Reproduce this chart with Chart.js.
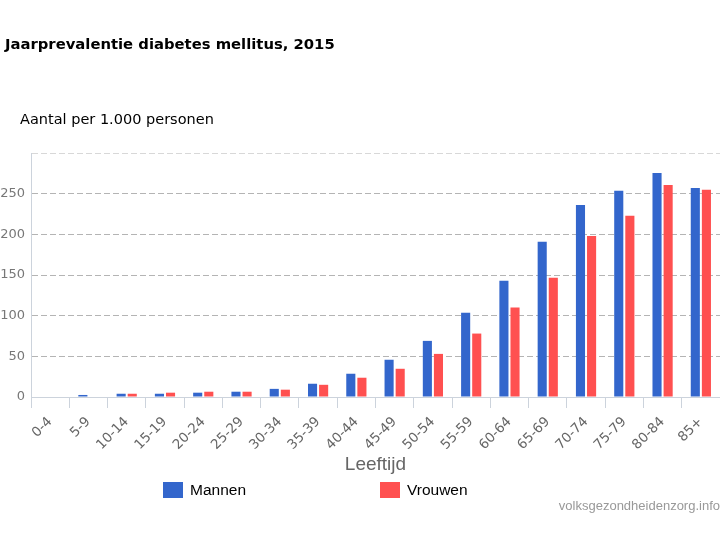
<!DOCTYPE html>
<html>
<head>
<meta charset="utf-8">
<script src="https://cdn.jsdelivr.net/npm/chart.js@4/dist/chart.umd.min.js"></script>
<style>
  html, body { margin: 0; padding: 0; background: #fff; }
  #wrap { width: 720px; height: 540px; position: relative; }
</style>
</head>
<body>
<div id="wrap"><canvas id="grafiek" width="720" height="540"></canvas></div>
<script>
// leeftijdsgroepen en waarden (aantal per 1.000 personen)
const leeftijden = ['0-4', '5-9', '10-14', '15-19', '20-24', '25-29', '30-34', '35-39', '40-44',
  '45-49', '50-54', '55-59', '60-64', '65-69', '70-74', '75-79', '80-84', '85+'];
const mannen = [0, 2.5, 4, 4, 5.3, 6.5, 10, 16.3, 28.6, 45.8, 69, 103.6, 143, 191, 236, 253.5, 275.5, 257];
const vrouwen = [0, 0, 4, 5.3, 6.5, 6.5, 9, 15, 23.7, 34.7, 53, 78, 110, 146.6, 198, 222.7, 260.8, 254.7];
const yTicks = [0, 50, 100, 150, 200, 250, 300];

const blauw = '#3366cc';
const rood = '#ff5050';

// titels, legenda en bron worden hier getekend
const tekstPlugin = {
  id: 'teksten',
  afterDraw(chart) {
    const c = chart.ctx;
    c.save();
    c.textBaseline = 'middle';
    c.fillStyle = '#000';
    c.font = 'bold 14.8px "DejaVu Sans"';
    c.fillText('Jaarprevalentie diabetes mellitus, 2015', 5, 45);
    c.font = '14.5px "DejaVu Sans"';
    c.fillText('Aantal per 1.000 personen', 20, 120);

    // legenda
    const posX = [163, 380];
    chart.data.datasets.forEach((ds, i) => {
      c.fillStyle = ds.backgroundColor;
      c.fillRect(posX[i], 482, 20, 16);
      c.fillStyle = '#000';
      c.font = '15.5px "Liberation Sans"';
      c.fillText(ds.label, posX[i] + 27, 491);
    });

    c.fillStyle = '#999';
    c.font = '13px "Liberation Sans"';
    c.textAlign = 'right';
    c.fillText('volksgezondheidenzorg.info', 720, 506);
    c.restore();
  }
};

const ctx = document.getElementById('grafiek');

let chart = new Chart(ctx, {
  type: 'bar',
  data: {
    labels: leeftijden,
    datasets: [
      { label: 'Mannen', data: mannen, backgroundColor: blauw },
      { label: 'Vrouwen', data: vrouwen, backgroundColor: rood }
    ]
  },
  options: {
    responsive: false,
    animation: false,
    devicePixelRatio: 1,
    layout: { padding: { top: 153, left: 0, right: 0, bottom: 64 } },
    categoryPercentage: 0.58,
    barPercentage: 0.82,
    plugins: {
      legend: { display: false },
      title: { display: false },
      tooltip: { enabled: false }
    },
    scales: {
      x: {
        afterFit: (s) => { s.height = 79; },
        grid: {
          drawOnChartArea: false,
          drawTicks: true,
          tickLength: 11,
          color: '#ccd3dc'
        },
        border: { display: true, color: '#ccd3dc', width: 1 },
        ticks: {
          minRotation: 45,
          maxRotation: 45,
          autoSkip: false,
          padding: 6,
          color: '#666',
          font: { family: 'DejaVu Sans', size: 13.5 }
        },
        title: {
          display: true,
          text: 'Leeftijd',
          color: '#666',
          font: { family: 'Liberation Sans', size: 19 },
          padding: { top: 0, bottom: 0 }
        }
      },
      y: {
        min: 0,
        max: 300,
        afterFit: (s) => { s.width = 31; },
        afterBuildTicks: (s) => { s.ticks = yTicks.map(v => ({ value: v })); },
        grid: {
          drawTicks: false,
          lineWidth: 1,
          color: (c) => c.tick && c.tick.value === 0 ? 'rgba(0,0,0,0)' :
            (c.tick && c.tick.value === 300 ? '#d8d8d8' : '#b4b4b4')
        },
        border: { display: true, color: '#ccd3dc', width: 1, dash: [6, 3] },
        ticks: {
          padding: 6,
          color: '#777',
          font: { family: 'DejaVu Sans', size: 13 },
          callback: (v) => v === 300 ? '' : v
        }
      }
    }
  },
  plugins: [tekstPlugin]
});
</script>
</body>
</html>
